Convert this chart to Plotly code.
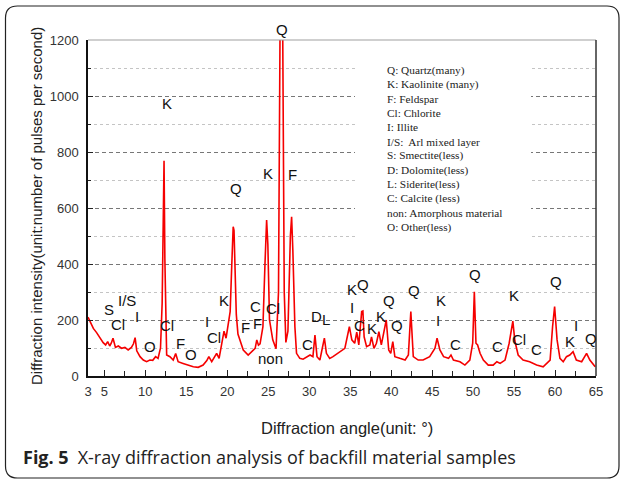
import plotly.graph_objects as go

# ---------------- data ----------------
angle = [3.0, 3.35, 3.65, 4.05, 4.45, 4.85, 5.15, 5.4, 5.65, 5.85, 6.05, 6.35, 6.7, 7.1, 7.5, 7.9,
         8.3, 8.55, 8.75, 8.95, 9.35, 9.75, 10.15, 10.55, 10.9, 11.25, 11.55, 11.85, 12.05, 12.2,
         12.28, 12.38, 12.5, 12.6, 13.0, 13.4, 13.7, 14.0, 14.6, 15.25, 15.85, 16.45, 17.05, 17.5,
         17.75, 18.1, 18.5, 18.7, 19.0, 19.3, 19.6, 19.85, 20.1, 20.35, 20.55, 20.72, 20.82, 20.95,
         21.1, 21.3, 21.55, 21.95, 22.55, 22.95, 23.4, 23.6, 23.8, 24.0, 24.35, 24.6, 24.8, 24.95,
         25.15, 25.55, 25.95, 26.25, 26.45, 26.75, 26.95, 27.15, 27.4, 27.7, 27.85, 28.0, 28.25,
         28.45, 28.85, 29.25, 29.7, 30.1, 30.45, 30.7, 30.95, 31.3, 31.6, 31.85, 32.1, 32.5, 32.9,
         33.75, 34.35, 34.9, 35.2, 35.55, 35.8, 36.05, 36.4, 36.55, 36.7, 37.0, 37.4, 37.6, 37.9,
         38.2, 38.5, 38.8, 39.2, 39.4, 39.7, 39.95, 40.2, 40.45, 41.05, 41.7, 42.1, 42.4, 42.7,
         43.3, 43.9, 44.7, 45.35, 45.6, 45.95, 46.4, 47.0, 47.3, 47.6, 48.4, 49.0, 49.6, 49.95,
         50.15, 50.35, 50.55, 50.85, 51.25, 51.85, 52.45, 52.9, 53.3, 53.9, 54.4, 54.85, 55.1,
         55.5, 56.1, 56.9, 57.75, 58.55, 59.0, 59.4, 59.7, 59.95, 60.25, 60.6, 61.0, 61.4, 61.8,
         62.2, 62.6, 63.25, 63.85, 64.25, 64.9]
intensity = [210, 188, 170, 155, 138, 119, 111, 123, 107, 118, 135, 102, 107, 99, 102, 93,
             102, 115, 137, 90, 69, 57, 51, 57, 56, 69, 63, 100, 260, 640,
             769, 420, 150, 75, 69, 57, 80, 51, 45, 39, 33, 31, 39, 55,
             69, 51, 75, 81, 63, 117, 160, 135, 182, 230, 400, 533, 520, 380,
             220, 150, 125, 93, 75, 87, 99, 129, 110, 115, 176, 400, 557, 470,
             200, 129, 97, 300, 1300, 1300, 300, 120, 160, 500, 569, 450, 176,
             81, 63, 60, 69, 75, 69, 146, 69, 57, 100, 135, 81, 63, 69,
             87, 99, 176, 129, 117, 157, 111, 230, 232, 140, 105, 111, 140, 99,
             117, 158, 111, 176, 200, 93, 81, 123, 69, 63, 57, 75, 230, 69,
             57, 57, 69, 99, 135, 93, 69, 63, 75, 57, 51, 39, 57, 117,
             301, 117, 111, 81, 57, 39, 39, 51, 45, 57, 117, 196, 125,
             75, 57, 51, 39, 33, 45, 57, 176, 248, 129, 63, 51, 69, 75,
             87, 57, 51, 81, 57, 33]

x_ticks = [3, 5, 10, 15, 20, 25, 30, 35, 40, 45, 50, 55, 60, 65]

peak_labels = ["Q", "K", "Q", "K", "F",
               "S", "I/S", "Cl", "I", "O", "Cl", "F", "O", "I", "Cl", "K",
               "F", "F", "C", "Cl", "non", "C",
               "D", "L", "K", "Q", "I", "C", "K", "K", "Q", "Q", "Q",
               "K", "I", "C", "Q", "C", "K", "Cl", "C", "Q", "K", "I", "Q"]
label_x = [26.68, 12.64, 21.06, 24.97, 28.0,
           5.6, 7.72, 6.62, 8.94, 10.57, 12.6, 14.23, 15.53, 17.48, 18.42, 19.6,
           22.24, 23.71, 23.46, 25.54, 25.3, 29.77,
           30.9, 32.05, 35.2, 36.6, 35.26, 36.1, 37.7, 38.7, 39.77, 40.67, 42.79,
           46.04, 45.75, 47.9, 50.23, 52.95, 55.03, 55.64, 57.76, 60.1, 61.8, 62.6, 64.4]
label_y = [1236, 975, 671, 725, 718,
           238, 271, 185, 212, 107, 182, 117, 77, 196, 138, 268,
           174, 188, 248, 242, 63, 114,
           212, 202, 310, 327, 243, 182, 170, 214, 271, 179, 305,
           268, 200, 111, 361, 105, 289, 132, 96, 337, 123, 182, 135]

legend_lines = ["Q: Quartz(many)", "K: Kaolinite (many)", "F: Feldspar", "Cl: Chlorite",
                "I: Illite", "I/S:  Arl mixed layer", "S: Smectite(less)", "D: Dolomite(less)",
                "L: Siderite(less)", "C: Calcite (less)", "non: Amorphous material",
                "O: Other(less)"]

caption_bold = "Fig. 5"
caption_text = "X-ray diffraction analysis of backfill material samples"
x_title = "Diffraction angle(unit: °)"
y_title = "Diffraction intensity(unit:number of pulses per second)"

# ---------------- layout helpers (pixel -> paper) ----------------
L, R, T, B = 88, 596, 40, 376
W, H = 624, 480
Y_MAX = 1200


def px(xp):
    return (xp - L) / (R - L)


def py(yp):
    return (B - yp) / (B - T)


SANS = "Liberation Sans, Arial, sans-serif"
SERIF = "Liberation Serif, Times New Roman, serif"

fig = go.Figure()
fig.add_trace(go.Scatter(x=angle, y=intensity, mode="lines",
                         line=dict(color="rgb(245,0,0)", width=1.6),
                         hoverinfo="skip"))

annotations = []
for t, xv, yv in zip(peak_labels, label_x, label_y):
    annotations.append(dict(x=xv, y=yv / Y_MAX, xref="x", yref="paper", text=t,
                            showarrow=False,
                            font=dict(family=SANS, size=15, color="#111"),
                            xanchor="center", yanchor="middle"))

for i, line in enumerate(legend_lines):
    annotations.append(dict(x=px(385), y=py(70 + i * 14.33), xref="paper", yref="paper",
                            text=line, showarrow=False, xanchor="left", yanchor="middle",
                            font=dict(family=SERIF, size=11.3, color="#222")))

annotations.append(dict(x=px(347), y=py(428), xref="paper", yref="paper", text=x_title,
                        showarrow=False, xanchor="center", yanchor="middle",
                        font=dict(family=SANS, size=16.5, color="#222")))
annotations.append(dict(x=px(36), y=py(206), xref="paper", yref="paper", text=y_title,
                        showarrow=False, xanchor="center", yanchor="middle", textangle=-90,
                        font=dict(family=SANS, size=15, color="#222")))
annotations.append(dict(x=px(21), y=py(457), xref="paper", yref="paper",
                        text="<b>" + caption_bold + "</b>\u2002" + caption_text,
                        showarrow=False, xanchor="left", yanchor="middle",
                        font=dict(family="Open Sans, sans-serif", size=18, color="#222")))

# rounded outer frame
fl, ft, fr, fb, rr = 5.5, 6, 619, 478, 12
frame_path = (
    f"M {px(fl)},{py(ft + rr)} Q {px(fl)},{py(ft)} {px(fl + rr)},{py(ft)} "
    f"L {px(fr - rr)},{py(ft)} Q {px(fr)},{py(ft)} {px(fr)},{py(ft + rr)} "
    f"L {px(fr)},{py(fb - rr)} Q {px(fr)},{py(fb)} {px(fr - rr)},{py(fb)} "
    f"L {px(fl + rr)},{py(fb)} Q {px(fl)},{py(fb)} {px(fl)},{py(fb - rr)} Z"
)

shapes = [
    dict(type="rect", xref="paper", yref="paper", x0=px(355), x1=px(531), y0=py(250), y1=py(44),
         fillcolor="white", line=dict(width=0), layer="above"),
    dict(type="line", xref="paper", yref="paper", x0=0, x1=1, y0=1, y1=1,
         line=dict(color="#a0a0a0", width=1.2), layer="above"),
    dict(type="line", xref="paper", yref="paper", x0=1, x1=1, y0=0, y1=1,
         line=dict(color="#333", width=1.5), layer="above"),
    dict(type="path", xref="paper", yref="paper", path=frame_path,
         line=dict(color="#222", width=1.2), fillcolor="rgba(0,0,0,0)", layer="above"),
]

fig.update_layout(
    width=W, height=H,
    margin=dict(l=L, r=W - R, t=T, b=H - B),
    plot_bgcolor="white", paper_bgcolor="white",
    showlegend=False,
    annotations=annotations,
    shapes=shapes,
    xaxis=dict(range=[3, 65], tickmode="array", tickvals=x_ticks,
               ticktext=[str(v) for v in x_ticks],
               ticks="inside", ticklen=6, tickwidth=1.2, tickcolor="#222",
               showline=True, linecolor="#111", linewidth=1.5,
               showgrid=False, zeroline=False, ticklabelstandoff=3,
               tickfont=dict(family=SANS, size=13, color="#333"),
               minor=dict(tickvals=[7.5 + 5 * k for k in range(12)], ticks="inside",
                          ticklen=5, tickcolor="#222", showgrid=False)),
    yaxis=dict(range=[0, Y_MAX], tick0=0, dtick=200,
               ticks="inside", ticklen=5, tickwidth=1.2, tickcolor="#222",
               showline=True, linecolor="#111", linewidth=1.5,
               showgrid=True, gridcolor="#777", gridwidth=0.9, griddash="4px,3px",
               zeroline=False, ticklabelstandoff=5,
               tickfont=dict(family=SANS, size=13, color="#333"),
               minor=dict(dtick=100, tick0=0, ticks="inside", ticklen=3, tickcolor="#222",
                          showgrid=True, gridcolor="#c4c4c4", gridwidth=0.8, griddash="dot")),
)

fig.write_html("out.html", config={"displayModeBar": False},
               post_script="document.body.style.margin='0px';document.body.style.overflow='hidden';")
